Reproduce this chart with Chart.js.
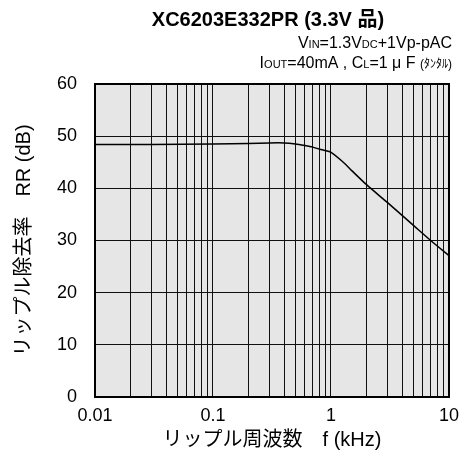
<!DOCTYPE html>
<html>
<head>
<meta charset="utf-8">
<script src="https://cdn.jsdelivr.net/npm/chart.js@4.4.1/dist/chart.umd.min.js"></script>
<style>
  body { margin: 0; background: #fff; }
  #wrap { width: 467px; height: 466px; }
</style>
</head>
<body>
<div id="wrap"><canvas id="rrChart" width="467" height="466"></canvas></div>
<script>
// ripple frequency (kHz) and ripple rejection (dB)
const freqKHz = [0.01, 0.03, 0.1, 0.2, 0.3, 0.4, 0.5, 0.6, 0.7, 0.8, 1, 1.3, 1.5, 2, 3, 5, 7, 10];
const rrDb    = [48.4, 48.4, 48.5, 48.6, 48.7, 48.7, 48.5, 48.2, 47.9, 47.5, 46.9, 44.8, 43.4, 40.7, 37.3, 32.9, 30.0, 27.1];

const decades = [0.01, 0.1, 1, 10];
const xTickLabels = ['0.01', '0.1', '1', '10'];
const yTicks = [0, 10, 20, 30, 40, 50, 60];

const FONT = '"Liberation Sans", Arial, "Noto Sans CJK JP", sans-serif';

// vertical grid at 1..9 of each decade
const gridValues = [];
decades.forEach(function (d, i) {
  if (i === decades.length - 1) { gridValues.push(d); return; }
  for (let k = 1; k < 10; k++) gridValues.push(+(d * k).toPrecision(6));
});

function drawRuns(ctx, runs, rightX, baseY) {
  let w = 0;
  runs.forEach(r => { ctx.font = r[1] + 'px ' + FONT; w += ctx.measureText(r[0]).width; });
  let x = rightX - w;
  ctx.textAlign = 'left';
  ctx.textBaseline = 'alphabetic';
  runs.forEach(r => {
    ctx.font = r[1] + 'px ' + FONT;
    ctx.fillText(r[0], x, baseY);
    x += ctx.measureText(r[0]).width;
  });
}

const frame = {
  id: 'frame',
  beforeDraw(chart) {
    const { ctx, chartArea: a } = chart;
    ctx.save();
    ctx.fillStyle = '#e6e6e6';
    ctx.fillRect(a.left, a.top, a.right - a.left, a.bottom - a.top);
    ctx.restore();
  },
  afterDraw(chart) {
    const { ctx, chartArea: a } = chart;
    ctx.save();
    ctx.strokeStyle = '#000';
    ctx.lineWidth = 2;
    ctx.strokeRect(a.left, a.top, a.right - a.left, a.bottom - a.top);

    ctx.fillStyle = '#000';
    ctx.font = 'bold 20px ' + FONT;
    ctx.textAlign = 'center';
    ctx.textBaseline = 'middle';
    ctx.fillText('XC6203E332PR (3.3V 品)', 268, 20);

    drawRuns(ctx, [['V', 16], ['IN', 11], ['=1.3V', 16], ['DC', 11], ['+1Vp-pAC', 16]], 452, 48);
    drawRuns(ctx, [['I', 16], ['OUT', 11], ['=40mA , C', 16], ['L', 11], ['=1 μ F ', 16], ['(ﾀﾝﾀﾙ)', 12]], 452, 68);
    ctx.restore();
  }
};

new Chart(document.getElementById('rrChart'), {
  type: 'line',
  data: {
    datasets: [{
      data: freqKHz.map((f, i) => ({ x: f, y: rrDb[i] })),
      borderColor: '#000',
      borderWidth: 1.5,
      pointRadius: 0,
      tension: 0.25,
      fill: false
    }]
  },
  options: {
    responsive: false,
    animation: false,
    layout: { padding: { left: 0, right: 14, top: 84, bottom: 0 } },
    plugins: { legend: { display: false }, tooltip: { enabled: false } },
    scales: {
      x: {
        type: 'logarithmic',
        min: 0.01,
        max: 10,
        afterBuildTicks(scale) { scale.ticks = gridValues.map(v => ({ value: v })); },
        afterFit(scale) { scale.height = 69; },
        grid: { color: '#111', lineWidth: 1, drawTicks: false },
        border: { color: '#000', width: 2 },
        ticks: {
          autoSkip: false,
          maxRotation: 0,
          padding: 8,
          color: '#000',
          font: { family: FONT, size: 18 },
          callback(value) {
            const i = decades.findIndex(d => Math.abs(d - value) / d < 1e-6);
            return i >= 0 ? xTickLabels[i] : '';
          }
        },
        title: {
          display: true,
          text: 'リップル周波数　f (kHz)',
          color: '#000',
          font: { family: FONT, size: 20 },
          padding: { top: 0, bottom: 14 }
        }
      },
      y: {
        min: 0,
        max: 60,
        afterBuildTicks(scale) { scale.ticks = yTicks.map(v => ({ value: v })); },
        afterFit(scale) { scale.width = 95; },
        grid: { color: '#111', lineWidth: 1, drawTicks: false },
        border: { color: '#000', width: 2 },
        ticks: {
          padding: 18,
          color: '#000',
          font: { family: FONT, size: 18 }
        },
        title: {
          display: true,
          text: 'リップル除去率　RR (dB)',
          color: '#000',
          font: { family: FONT, size: 20 },
          padding: { top: 12, bottom: 0 }
        }
      }
    }
  },
  plugins: [frame]
});
</script>
</body>
</html>
